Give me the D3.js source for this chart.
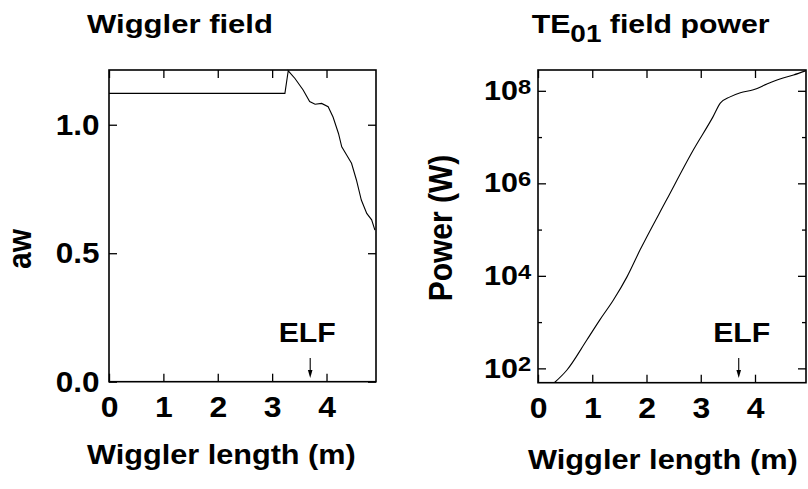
<!DOCTYPE html>
<html>
<head>
<meta charset="utf-8">
<script src="https://cdn.jsdelivr.net/npm/d3@7"></script>
<style>
  body { margin: 0; background: #fff; }
  svg text { font-family: "Liberation Sans", Arial, Helvetica, sans-serif; font-weight: bold; fill: #000; }
</style>
</head>
<body>
<script>
// Wiggler field profile a_w along the undulator (m)
const wigglerZ = [0, 3.235, 3.296, 3.42, 3.57, 3.69, 3.79, 3.91, 4.03, 4.12, 4.22, 4.28, 4.37, 4.46, 4.55, 4.64, 4.74, 4.83, 4.89];
const awValues = [1.122, 1.122, 1.21, 1.18, 1.135, 1.09, 1.08, 1.083, 1.07, 1.03, 0.966, 0.914, 0.882, 0.85, 0.785, 0.707, 0.655, 0.63, 0.59];

// TE01 mode power (W) along the undulator (m)
const powerZ = [0.31, 0.53, 0.9, 1.14, 1.39, 1.64, 1.88, 2.37, 2.86, 3.23, 3.36, 3.54, 3.73, 3.97, 4.22, 4.46, 4.71, 4.93];
const powerW = [50, 91, 410, 1120, 3000, 9500, 36000, 4.4e5, 5.2e6, 2.8e7, 5.4e7, 7.4e7, 9.1e7, 1.05e8, 1.4e8, 1.8e8, 2.2e8, 2.7e8];

// Axis ticks
const zTicks = [0, 1, 2, 3, 4];
const awTicks = [0, 0.5, 1.0];
const powerTicks = [1e2, 1e4, 1e6, 1e8];
const powerMinorTicks = [1e3, 1e5, 1e7];

// End of the linear-field section
const elfZ = 3.7;

const W = 808, H = 489;
const FONT = '"Liberation Sans", Arial, Helvetica, sans-serif';
const svg = d3.select("body").append("svg").attr("width", W).attr("height", H);

// Text stretched horizontally so it spans a given width
function fitText(parent, build, x, y, width) {
  const g = parent.append("g");
  const t = g.append("text").attr("x", 0).attr("y", 0);
  build(t);
  const bw = t.node().getBBox().width;
  g.attr("transform", `translate(${x},${y}) scale(${width / bw},1)`);
  return g;
}

function styleAxis(g, size, sx) {
  g.attr("font-family", FONT).attr("font-size", size).attr("font-weight", "bold");
  g.select(".domain").remove();
  g.selectAll(".tick line").attr("stroke", "#000").attr("stroke-width", 1.3);
  if (sx) g.selectAll(".tick text").attr("transform", `scale(${sx},1)`);
}

function drawPanel(x, y, opts) {
  const g = svg.append("g");
  const [x0, x1] = x.range();
  const [y0, y1] = y.range();

  g.append("g").attr("transform", `translate(0,${y0})`)
    .call(d3.axisBottom(x).tickValues(zTicks).tickSize(-8).tickPadding(15).tickFormat(d3.format("d")))
    .call(a => styleAxis(a, 29, 1.1));
  g.append("g").attr("transform", `translate(0,${y1})`)
    .call(d3.axisTop(x).tickValues(zTicks).tickSize(-8).tickFormat(""))
    .call(a => styleAxis(a, 29));

  opts.yAxes(g, x0, x1);

  g.append("rect")
    .attr("x", x0).attr("y", y1).attr("width", x1 - x0).attr("height", y0 - y1)
    .attr("fill", "none").attr("stroke", "#000").attr("stroke-width", 1.6);

  g.append("path")
    .datum(opts.data)
    .attr("fill", "none").attr("stroke", "#000").attr("stroke-width", 1.1)
    .attr("d", d3.line().x(d => x(d[0])).y(d => y(d[1])).curve(opts.curve));

  // ELF marker
  const ex = x(elfZ);
  const tx = ex + opts.elfDx;
  g.append("text").attr("x", 0).attr("y", 342.5)
    .attr("text-anchor", "middle").attr("font-size", 28)
    .attr("transform", `translate(${tx},0) scale(1.08,1)`)
    .text("ELF");
  g.append("line").attr("x1", ex).attr("x2", ex).attr("y1", 358).attr("y2", 371)
    .attr("stroke", "#000").attr("stroke-width", 1.1);
  g.append("path").attr("d", `M${ex - 2.3},370 L${ex + 2.3},370 L${ex},378 Z`).attr("fill", "#000");
  return g;
}

// Left: wiggler field
const xL = d3.scaleLinear().domain([0, 4.91]).range([109, 376]);
const yL = d3.scaleLinear().domain([0, 1.213]).range([381.7, 70]);
drawPanel(xL, yL, {
  data: wigglerZ.map((z, i) => [z, awValues[i]]),
  curve: d3.curveLinear,
  elfDx: -3,
  yAxes: (g, x0, x1) => {
    g.append("g").attr("transform", `translate(${x0},0)`)
      .call(d3.axisLeft(yL).tickValues(awTicks).tickSize(-8).tickPadding(9).tickFormat(d3.format(".1f")))
      .call(a => styleAxis(a, 30, 1.05));
    g.append("g").attr("transform", `translate(${x1},0)`)
      .call(d3.axisRight(yL).tickValues(awTicks).tickSize(-8).tickFormat(""))
      .call(a => styleAxis(a, 30));
  }
});

// Right: TE01 power, log scale
const xR = d3.scaleLinear().domain([0, 4.94]).range([538, 806]);
const yR = d3.scaleLog().domain([Math.pow(10, 1.69), Math.pow(10, 8.45)]).range([382.7, 70]);
drawPanel(xR, yR, {
  data: powerZ.map((z, i) => [z, powerW[i]]),
  curve: d3.curveMonotoneX,
  elfDx: 3,
  yAxes: (g, x0, x1) => {
    const left = g.append("g").attr("transform", `translate(${x0},0)`)
      .call(d3.axisLeft(yR).tickValues(powerTicks).tickSize(-8).tickPadding(6).tickFormat(() => ""))
      .call(a => styleAxis(a, 27, 1.13));
    left.selectAll(".tick text").each(function (d) {
      const t = d3.select(this);
      t.append("tspan").text("10");
      t.append("tspan").attr("dy", "-0.3em").attr("font-size", 21).text(Math.round(Math.log10(d)));
    });
    g.append("g").attr("transform", `translate(${x0},0)`)
      .call(d3.axisLeft(yR).tickValues(powerMinorTicks).tickSize(-4).tickFormat(""))
      .call(a => styleAxis(a, 27));
    g.append("g").attr("transform", `translate(${x1},0)`)
      .call(d3.axisRight(yR).tickValues(powerTicks).tickSize(-8).tickFormat(""))
      .call(a => styleAxis(a, 27));
    g.append("g").attr("transform", `translate(${x1},0)`)
      .call(d3.axisRight(yR).tickValues(powerMinorTicks).tickSize(-4).tickFormat(""))
      .call(a => styleAxis(a, 27));
  }
});

// Titles
fitText(svg, t => t.attr("font-size", 26).text("Wiggler field"), 87, 33.3, 186);
fitText(svg, t => {
  t.attr("font-size", 26);
  t.append("tspan").text("TE");
  t.append("tspan").attr("dy", 9).attr("font-size", 24).text("01");
  t.append("tspan").attr("dy", -9).text(" field power");
}, 531.7, 33.3, 238);

// Axis titles
fitText(svg, t => t.attr("font-size", 27).text("Wiggler length (m)"), 87, 464, 269);
fitText(svg, t => t.attr("font-size", 27).text("Wiggler length (m)"), 528, 469, 270);

svg.append("text")
  .attr("transform", "translate(31,249) scale(1.12,1) rotate(-90)")
  .attr("text-anchor", "middle").attr("font-size", 30).text("aw");
svg.append("text")
  .attr("transform", "translate(452,228) scale(1.12,1) rotate(-90)")
  .attr("text-anchor", "middle").attr("font-size", 30).text("Power (W)");
</script>
</body>
</html>
